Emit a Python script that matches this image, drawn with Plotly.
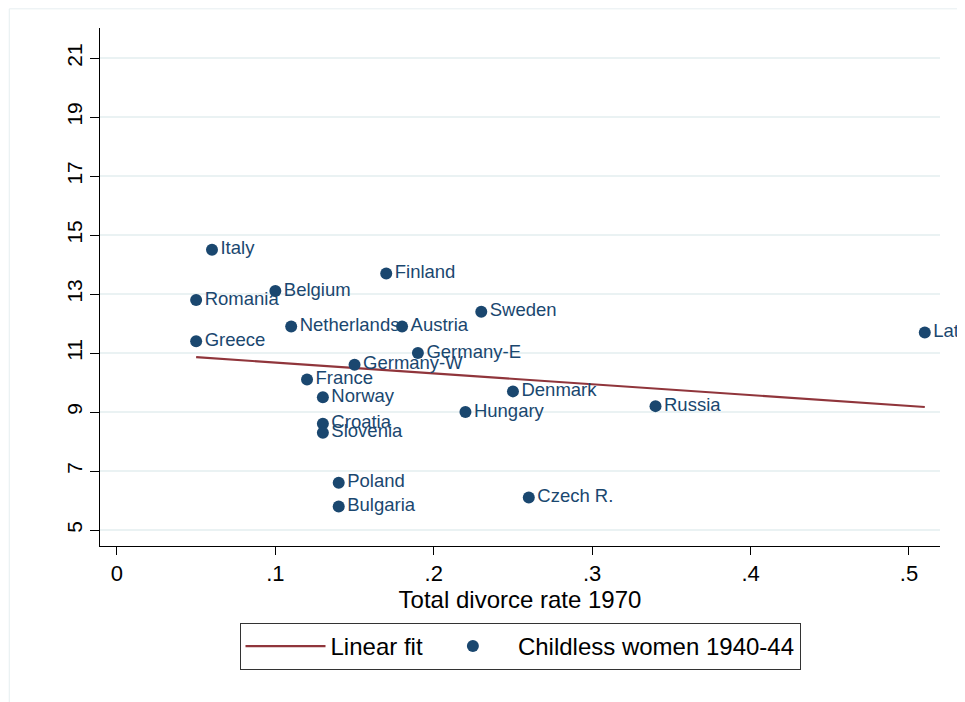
import plotly.graph_objects as go

countries = ["Italy", "Finland", "Belgium", "Romania", "Sweden", "Netherlands", "Austria",
             "Latvia", "Greece", "Germany-E", "Germany-W", "France", "Denmark", "Norway",
             "Russia", "Hungary", "Croatia", "Slovenia", "Poland", "Bulgaria", "Czech R."]
divorce_rate = [0.06, 0.17, 0.10, 0.05, 0.23, 0.11, 0.18,
                0.51, 0.05, 0.19, 0.15, 0.12, 0.25, 0.13,
                0.34, 0.22, 0.13, 0.13, 0.14, 0.14, 0.26]
childless = [14.5, 13.7, 13.1, 12.8, 12.4, 11.9, 11.9,
             11.7, 11.4, 11.0, 10.6, 10.1, 9.7, 9.5,
             9.2, 9.0, 8.6, 8.3, 6.6, 5.8, 6.1]

fit_x = [0.05, 0.51]
fit_y = [10.86, 9.17]

x_tickvals = [0, 0.1, 0.2, 0.3, 0.4, 0.5]
x_ticktext = ["0", ".1", ".2", ".3", ".4", ".5"]
y_tickvals = [5, 7, 9, 11, 13, 15, 17, 19, 21]

NAVY = "#1a476f"
MAROON = "#90353b"
FONT = "Liberation Sans, Arial, sans-serif"

fig = go.Figure()
fig.add_trace(go.Scatter(
    x=fit_x, y=fit_y, mode="lines", name="Linear fit",
    line=dict(color=MAROON, width=2.2),
))
fig.add_trace(go.Scatter(
    x=divorce_rate, y=childless, mode="markers+text", name="Childless women 1940-44",
    text=countries, textposition="middle right",
    textfont=dict(color=NAVY, size=18.5, family=FONT),
    marker=dict(color=NAVY, size=12),
    cliponaxis=False,
))

fig.update_layout(
    width=957, height=694,
    margin=dict(l=92, r=25, t=20, b=156),
    paper_bgcolor="white", plot_bgcolor="white",
    font=dict(family=FONT, color="black"),
    showlegend=True,
    legend=dict(
        orientation="h", x=0.5, xanchor="center", y=-0.1486, yanchor="top",
        bordercolor="#333333", borderwidth=1,
        font=dict(size=24, color="black", family=FONT),
        itemwidth=80, traceorder="normal",
    ),
    xaxis=dict(
        range=[-0.0107, 0.5196],
        tickvals=x_tickvals, ticktext=x_ticktext,
        showgrid=False, zeroline=False,
        showline=True, linecolor="black", linewidth=1,
        ticks="outside", ticklen=8, tickcolor="black",
        tickfont=dict(size=22, color="black"),
        title=dict(text="Total divorce rate 1970", font=dict(size=24, color="black"), standoff=2),
    ),
    yaxis=dict(
        range=[4.458, 22.02],
        tickvals=y_tickvals,
        showgrid=True, gridcolor="#eaf2f3", gridwidth=1.5,
        zeroline=False,
        showline=True, linecolor="black", linewidth=1,
        ticks="outside", ticklen=9, tickcolor="black",
        tickangle=-90,
        tickfont=dict(size=21, color="black"),
    ),
    shapes=[dict(type="rect", xref="paper", yref="paper",
                 x0=-0.108, x1=1.04, y0=-0.31, y1=1.037,
                 line=dict(color="#e6eef0", width=1), layer="below")],
)

fig.write_html("out.html")
